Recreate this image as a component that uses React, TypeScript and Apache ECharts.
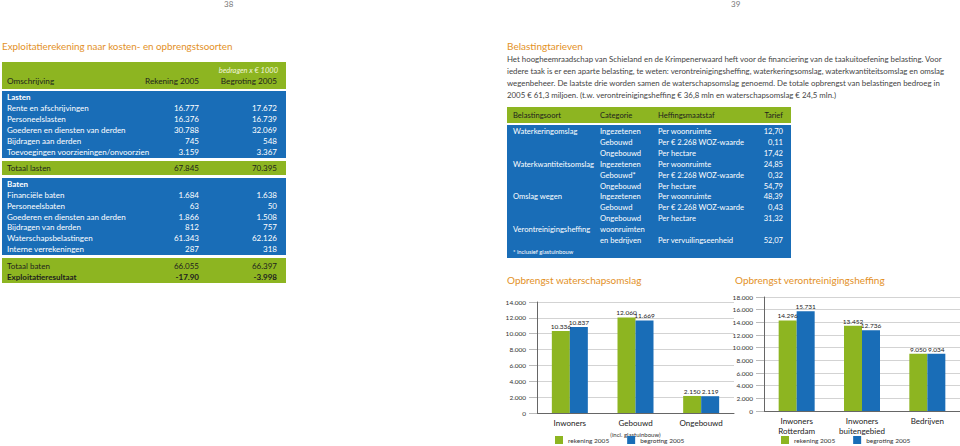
import React, { useEffect, useRef } from "react";
import * as echarts from "echarts";

// ---- Data ----
const pageNumbers = ["38", "39"];
const leftTitle = "Exploitatierekening naar kosten- en opbrengstsoorten";
const leftHeader = ["Omschrijving", "Rekening 2005", "Begroting 2005"];
const lastenRows = [
  ["Rente en afschrijvingen", "16.777", "17.672"],
  ["Personeelslasten", "16.376", "16.739"],
  ["Goederen en diensten van derden", "30.788", "32.069"],
  ["Bijdragen aan derden", "745", "548"],
  ["Toevoegingen voorzieningen/onvoorzien", "3.159", "3.367"],
];
const totaalLasten = ["Totaal lasten", "67.845", "70.395"];
const batenRows = [
  ["Financiële baten", "1.684", "1.638"],
  ["Personeelsbaten", "63", "50"],
  ["Goederen en diensten aan derden", "1.866", "1.508"],
  ["Bijdragen van derden", "812", "757"],
  ["Waterschapsbelastingen", "61.343", "62.126"],
  ["Interne verrekeningen", "287", "318"],
];
const totaalBaten = ["Totaal baten", "66.055", "66.397"];
const resultaat = ["Exploitatieresultaat", "-17.90", "-3.998"];

const rightTitle = "Belastingtarieven";
const paragraph = [
  "Het hoogheemraadschap van Schieland en de Krimpenerwaard heft voor de financiering van de taakuitoefening belasting. Voor",
  "iedere taak is er een aparte belasting, te weten: verontreinigingsheffing, waterkeringsomslag, waterkwantiteitsomslag en omslag",
  "wegenbeheer. De laatste drie worden samen de waterschapsomslag genoemd. De totale opbrengst van belastingen bedroeg in",
  "2005 € 61,3 miljoen. (t.w. verontreinigingsheffing € 36,8 mln en waterschapsomslag € 24,5 mln.)",
];
const tariefHeader = ["Belastingsoort", "Categorie", "Heffingsmaatstaf", "Tarief"];
const tariefRows = [
  ["Waterkeringomslag", "Ingezetenen", "Per woonruimte", "12,70"],
  ["", "Gebouwd", "Per € 2.268 WOZ-waarde", "0,11"],
  ["", "Ongebouwd", "Per hectare", "17,42"],
  ["Waterkwantiteitsomslag", "Ingezetenen", "Per woonruimte", "24,85"],
  ["", "Gebouwd*", "Per € 2.268 WOZ-waarde", "0,32"],
  ["", "Ongebouwd", "Per hectare", "54,79"],
  ["Omslag wegen", "Ingezetenen", "Per woonruimte", "48,39"],
  ["", "Gebouwd", "Per € 2.268 WOZ-waarde", "0,43"],
  ["", "Ongebouwd", "Per hectare", "31,32"],
  ["Verontreinigingsheffing", "woonruimten", "", ""],
  ["", "en bedrijven", "Per vervuilingseenheid", "52,07"],
];
const tariefNote = "* inclusief glastuinbouw";

const chart1Title = "Opbrengst waterschapsomslag";
const chart1Categories = ["Inwoners", "Gebouwd", "Ongebouwd"];
const chart1SubLabel = "(incl. glastuinbouw)";
const chart1Rekening = [10336, 12060, 2150];
const chart1Begroting = [10837, 11669, 2119];

const chart2Title = "Opbrengst verontreinigingsheffing";
const chart2Categories = ["Inwoners\nRotterdam", "Inwoners\nbuitengebied", "Bedrijven"];
const chart2Rekening = [14296, 13452, 9050];
const chart2Begroting = [15731, 12736, 9034];

const seriesNames = ["rekening 2005", "begroting 2005"];

// ---- Styles ----
const FONT = "Lato";
const GREEN = "#8db521";
const BLUE = "#196db7";
const ORANGE = "#e39127";
const DARK = "#1e1e1e";

const fmt = (v: number) => String(v).replace(/\B(?=(\d{3})+(?!\d))/g, ".");

function txt(text: string, x: number, y: number, opts: any = {}) {
  return {
    type: "text",
    x,
    y,
    silent: true,
    style: {
      text,
      fill: opts.fill || DARK,
      fontSize: opts.size || 8,
      fontFamily: FONT,
      fontWeight: opts.bold ? "bold" : "normal",
      fontStyle: opts.italic ? "italic" : "normal",
      align: opts.align || "left",
      verticalAlign: "middle",
    },
  };
}
function rect(x: number, y: number, w: number, h: number, fill: string) {
  return { type: "rect", silent: true, shape: { x, y, width: w, height: h }, style: { fill } };
}

function buildGraphics() {
  const g: any[] = [];
  g.push(txt(pageNumbers[0], 224, 4, { fill: "#777", size: 8 }));
  g.push(txt(pageNumbers[1], 731, 4, { fill: "#777", size: 8 }));

  // Left table
  g.push(txt(leftTitle, 2, 46, { fill: ORANGE, size: 9.8 }));
  g.push(rect(2, 62, 284, 27, GREEN));
  g.push(txt("bedragen x € 1000", 278, 70, { fill: "#f2f6dc", size: 7.5, italic: true, align: "right" }));
  g.push(txt(leftHeader[0], 7, 81, { size: 8.2 }));
  g.push(txt(leftHeader[1], 199, 81, { size: 8.2, align: "right" }));
  g.push(txt(leftHeader[2], 277, 81, { size: 8.2, align: "right" }));
  const row = (r: string[], y: number, fill: string, bold = false) => {
    g.push(txt(r[0], 7, y, { fill, bold, size: 8 }));
    g.push(txt(r[1], 199, y, { fill, bold, size: 8, align: "right" }));
    g.push(txt(r[2], 277, y, { fill, bold, size: 8, align: "right" }));
  };
  g.push(rect(2, 91, 284, 67, BLUE));
  g.push(txt("Lasten", 7, 97, { fill: "#fff", bold: true, size: 8 }));
  lastenRows.forEach((r, i) => row(r, 108 + i * 11, "#fff"));
  g.push(rect(2, 161, 284, 14, GREEN));
  row(totaalLasten, 168, DARK);
  g.push(rect(2, 178, 284, 77, BLUE));
  g.push(txt("Baten", 7, 184, { fill: "#fff", bold: true, size: 8 }));
  batenRows.forEach((r, i) => row(r, 195 + i * 10.8, "#fff"));
  g.push(rect(2, 258, 284, 25, GREEN));
  row(totaalBaten, 266, DARK);
  row(resultaat, 277, DARK, true);

  // Right text + table
  g.push(txt(rightTitle, 507, 46, { fill: ORANGE, size: 10 }));
  paragraph.forEach((l, i) => g.push(txt(l, 507, 59 + i * 12, { fill: "#444", size: 7.85 })));
  g.push(rect(507, 107, 284, 16, GREEN));
  const cols = [513, 600, 658];
  tariefHeader.slice(0, 3).forEach((h, i) => g.push(txt(h, cols[i], 115, { size: 7.6 })));
  g.push(txt(tariefHeader[3], 783, 115, { size: 7.6, align: "right" }));
  g.push(rect(507, 125, 284, 133, BLUE));
  tariefRows.forEach((r, i) => {
    const y = 131 + i * 10.9;
    for (let c = 0; c < 3; c++) if (r[c]) g.push(txt(r[c], cols[c], y, { fill: "#fff", size: 7.6 }));
    if (r[3]) g.push(txt(r[3], 783, y, { fill: "#fff", size: 7.6, align: "right" }));
  });
  g.push(txt(tariefNote, 513, 251, { fill: "#fff", size: 5.8 }));

  // chart titles
  g.push(txt(chart1Title, 507, 280, { fill: ORANGE, size: 10 }));
  g.push(txt(chart2Title, 735, 280, { fill: ORANGE, size: 10 }));
  return g;
}

function yAxis(gridIndex: number, max: number) {
  return {
    type: "value",
    gridIndex,
    min: 0,
    max,
    interval: 2000,
    axisLine: { show: true, lineStyle: { color: "#666", width: 1 } },
    axisTick: { show: true, length: 8, lineStyle: { color: "#bbb" } },
    splitLine: { show: true, lineStyle: { color: "#c8c8c8", width: 0.8 } },
    axisLabel: {
      fontSize: 6.5,
      fontFamily: FONT,
      color: "#333",
      margin: 11,
      formatter: (v: number) => fmt(v),
    },
  };
}

function xAxis(gridIndex: number, cats: string[]) {
  return {
    type: "category",
    gridIndex,
    data: cats,
    axisLine: { show: true, lineStyle: { color: "#666", width: 1 } },
    axisTick: { show: false },
    axisLabel: {
      fontSize: 8,
      fontFamily: FONT,
      color: "#222",
      margin: 5,
      lineHeight: 10,
      interval: 0,
      formatter: (v: string) =>
        gridIndex === 0 && v === chart1Categories[1] ? `{m|${v}}\n{s|${chart1SubLabel}}` : v,
      rich: {
        m: { fontSize: 8, fontFamily: FONT, color: "#222", lineHeight: 10 },
        s: { fontSize: 6, fontFamily: FONT, color: "#333", lineHeight: 10, padding: [2, 0, 0, 0] },
      },
    },
  };
}

function bar(name: string, data: number[], color: string, idx: number) {
  return {
    type: "bar",
    name,
    xAxisIndex: idx,
    yAxisIndex: idx,
    data,
    barWidth: 18,
    barGap: "0%",
    itemStyle: { color },
    label: {
      show: true,
      position: "top",
      distance: 1,
      fontSize: 6.5,
      fontFamily: FONT,
      color: "#222",
      formatter: (p: any) => fmt(p.value),
    },
  };
}

function legend(left: number) {
  return {
    left,
    top: 436,
    padding: 0,
    orient: "horizontal",
    icon: "rect",
    itemWidth: 8,
    itemHeight: 8,
    itemGap: 18,
    data: seriesNames,
    selectedMode: false,
    textStyle: { fontSize: 6.5, fontFamily: FONT, color: "#333" },
  };
}

export default function App() {
  const ref = useRef<HTMLDivElement>(null);
  useEffect(() => {
    if (!ref.current) return;
    const chart = echarts.init(ref.current, undefined, { renderer: "svg" });
    chart.setOption({
      animation: false,
      backgroundColor: "#fff",
      textStyle: { fontFamily: FONT },
      grid: [
        { left: 537, top: 302, width: 197, height: 111 },
        { left: 764, top: 297, width: 196, height: 114 },
      ],
      xAxis: [xAxis(0, chart1Categories), xAxis(1, chart2Categories)],
      yAxis: [yAxis(0, 14000), yAxis(1, 18000)],
      legend: [legend(555), legend(781)],
      series: [
        bar(seriesNames[0], chart1Rekening, GREEN, 0),
        bar(seriesNames[1], chart1Begroting, BLUE, 0),
        bar(seriesNames[0], chart2Rekening, GREEN, 1),
        bar(seriesNames[1], chart2Begroting, BLUE, 1),
      ],
      graphic: buildGraphics(),
    });
    return () => chart.dispose();
  }, []);
  return (
    <div
      ref={ref}
      style={{ position: "fixed", left: 0, top: 0, width: 960, height: 446 }}
    />
  );
}
